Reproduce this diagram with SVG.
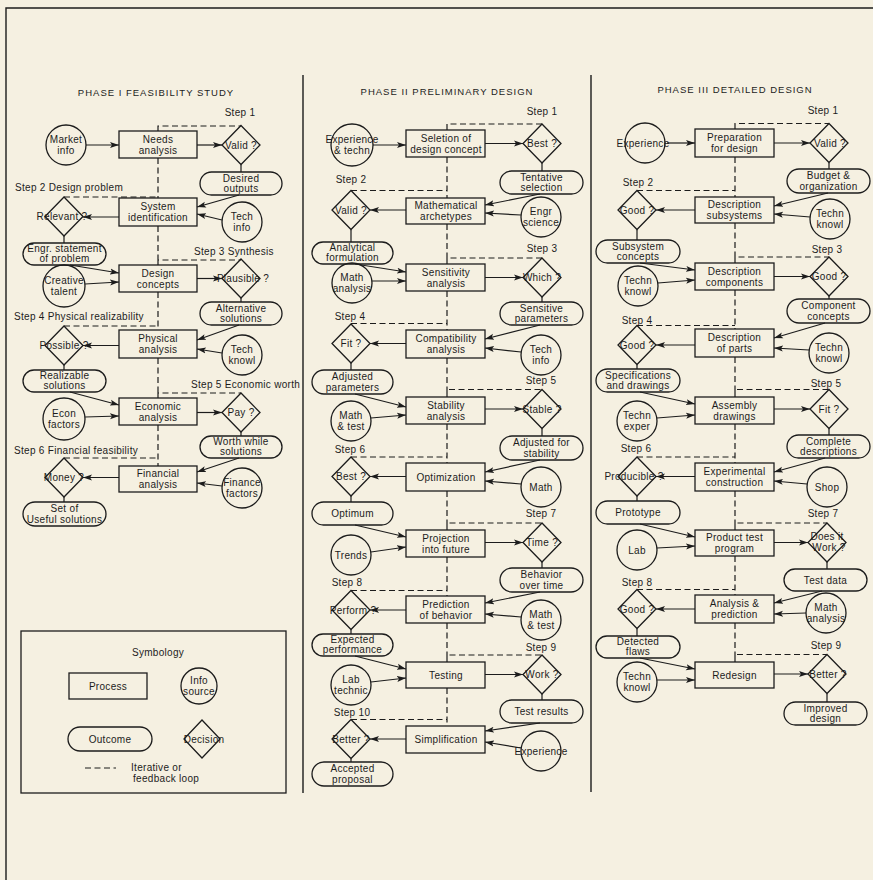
<svg xmlns="http://www.w3.org/2000/svg" width="873" height="880" viewBox="0 0 873 880">
<defs>
<marker id="ah" markerUnits="userSpaceOnUse" markerWidth="10" markerHeight="8" refX="9" refY="4" orient="auto">
<path d="M0,1 L9,4 L0,7 L2,4 Z" fill="#1c1c1c"/>
</marker>
<style>
.bg{fill:#f5f0e1}
.fr{fill:none;stroke:#1c1c1c;stroke-width:1.4}
.n rect,.n circle,.n polygon{fill:none;stroke:#1c1c1c;stroke-width:1.3}
text{font-family:"Liberation Sans","DejaVu Sans",sans-serif;font-size:10px;fill:#1c1c1c;letter-spacing:0.3px}
.n text{text-anchor:middle}
.t{font-size:9.5px;letter-spacing:1px;text-anchor:middle}
.s{text-anchor:start}
.c{text-anchor:middle}
.d{fill:none;stroke:#1c1c1c;stroke-width:1.2;stroke-dasharray:6,3.5}
.a{fill:none;stroke:#1c1c1c;stroke-width:1.2;marker-end:url(#ah)}
.l{fill:none;stroke:#1c1c1c;stroke-width:1.2}
</style>
</defs>
<rect class="bg" x="0" y="0" width="873" height="880"/>
<path class="fr" d="M6,880 V8 H873"/>
<path class="fr" d="M303,75 V793 M591,75 V792"/>

<text class="t" x="156" y="96">PHASE I FEASIBILITY STUDY</text>
<text class="t" x="447" y="95">PHASE II PRELIMINARY DESIGN</text>
<text class="t" x="735" y="93">PHASE III DETAILED DESIGN</text>

<g id="steps">
<text class="c" x="240" y="116">Step 1</text>
<text class="s" x="15" y="191">Step 2  Design problem</text>
<text class="s" x="194" y="255">Step 3  Synthesis</text>
<text class="s" x="14" y="320">Step 4  Physical realizability</text>
<text class="s" x="191" y="388">Step 5  Economic worth</text>
<text class="s" x="14" y="454">Step 6  Financial feasibility</text>
<text class="c" x="542" y="115">Step 1</text>
<text class="c" x="351" y="183">Step 2</text>
<text class="c" x="542" y="252">Step 3</text>
<text class="c" x="350" y="320">Step 4</text>
<text class="c" x="541" y="384">Step 5</text>
<text class="c" x="350" y="453">Step 6</text>
<text class="c" x="541" y="517">Step 7</text>
<text class="c" x="347" y="586">Step 8</text>
<text class="c" x="541" y="651">Step 9</text>
<text class="c" x="352" y="716">Step 10</text>
<text class="c" x="823" y="114">Step 1</text>
<text class="c" x="638" y="186">Step 2</text>
<text class="c" x="827" y="253">Step 3</text>
<text class="c" x="637" y="324">Step 4</text>
<text class="c" x="826" y="387">Step 5</text>
<text class="c" x="636" y="452">Step 6</text>
<text class="c" x="823" y="517">Step 7</text>
<text class="c" x="637" y="586">Step 8</text>
<text class="c" x="826" y="649">Step 9</text>
</g>

<g id="connectors">
<!-- Phase I dashed -->
<path class="d" d="M158,131 V126 H241 M158,158 V198 M158,226 V265 M158,292 V330 M158,358 V398 M158,425 V466 M64,197 H158 M158,265 V260 H241 M64,326 H158 M158,398 V393 H241 M64,458 H158"/>
<!-- Phase II dashed -->
<path class="d" d="M447,130 V124 H542 M351,190.5 H447 M447,264 V258 H542 M351,323.5 H447 M447,397 V389.5 H542 M351,457 H447 M447,530 V523 H542 M351,590.5 H447 M447,662 V655 H542 M351,719.5 H447 M447,157 V198 M447,224 V264 M447,291 V330 M447,358 V397 M447,424 V463 M447,491 V530 M447,557 V596 M447,623 V662 M447,688 V726"/>
<!-- Phase III dashed -->
<path class="d" d="M735,129 V123.5 H829 M637,190.5 H735 M735,263 V257 H829 M637,325.5 H735 M735,397 V389.5 H829 M637,457 H735 M735,530 V523 H827 M637,589.5 H735 M735,662 V654.5 H827 M735,157 V197 M735,223 V263 M735,290 V329 M735,357 V397 M735,424 V463 M735,491 V530 M735,556 V595 M735,623 V662"/>
<!-- diamond to outcome -->
<path class="l" d="M241,164.5 V172 M64,236 V243 M241,298 V302 M64,365 V370 M241,432 V436 M64,497 V502 M542,163 V171 M351,229.5 V242 M542,297 V302 M351,363 V370 M542,428.5 V436 M351,496 V502 M542,562 V568 M351,629.5 V634 M542,694 V700 M351,758.5 V762 M829,162.5 V169 M637,229.5 V240 M829,296 V299 M637,364.5 V369 M829,428.5 V435 M637,496 V501 M827,562 V569 M637,628.5 V636 M827,693.5 V702"/>
<!-- Phase I arrows -->
<path class="a" d="M86,145 H119"/>
<path class="a" d="M197,145 H222"/>
<path class="a" d="M239,195 L197,207"/>
<path class="a" d="M222,220 L197,214"/>
<path class="a" d="M119,217 H83"/>
<path class="a" d="M70,265 L119,273"/>
<path class="a" d="M85,284 L119,282"/>
<path class="a" d="M197,278.5 H222"/>
<path class="a" d="M239,325 L197,340"/>
<path class="a" d="M222,353 L197,349"/>
<path class="a" d="M119,345.5 H83"/>
<path class="a" d="M70,392 L119,405"/>
<path class="a" d="M85,417 L119,416"/>
<path class="a" d="M197,412.5 H222"/>
<path class="a" d="M239,458 L197,472"/>
<path class="a" d="M222,486 L197,483"/>
<path class="a" d="M119,477.5 H83"/>
<!-- Phase II arrows -->
<path class="a" d="M373,145 H406"/>
<path class="a" d="M485,143.5 H523"/>
<path class="a" d="M540,194 L485,205"/>
<path class="a" d="M521,215 L485,213"/>
<path class="a" d="M406,210 H370"/>
<path class="a" d="M355,264 L406,272"/>
<path class="a" d="M372,281 L406,281"/>
<path class="a" d="M485,277.5 H523"/>
<path class="a" d="M540,325 L485,339"/>
<path class="a" d="M521,352 L485,348"/>
<path class="a" d="M406,343.5 H370"/>
<path class="a" d="M355,394 L406,407"/>
<path class="a" d="M371,418 L406,415"/>
<path class="a" d="M485,409 H523"/>
<path class="a" d="M540,460 L485,472"/>
<path class="a" d="M521,484 L485,481"/>
<path class="a" d="M406,476.5 H370"/>
<path class="a" d="M355,525 L406,537"/>
<path class="a" d="M371,552 L406,547"/>
<path class="a" d="M485,542.5 H523"/>
<path class="a" d="M540,592 L485,603"/>
<path class="a" d="M521,617 L485,614"/>
<path class="a" d="M406,610 H370"/>
<path class="a" d="M355,656 L406,669"/>
<path class="a" d="M371,682 L406,678"/>
<path class="a" d="M485,674.5 H523"/>
<path class="a" d="M540,723 L485,731"/>
<path class="a" d="M521,748 L485,742"/>
<path class="a" d="M406,739 H370"/>
<!-- Phase III arrows -->
<path class="a" d="M667,143 H695"/>
<path class="a" d="M774,143 H810"/>
<path class="a" d="M828,193 L774,206"/>
<path class="a" d="M810,217 L774,214"/>
<path class="a" d="M695,210 H656"/>
<path class="a" d="M640,263 L695,270"/>
<path class="a" d="M658,283 L695,280"/>
<path class="a" d="M774,276.5 H810"/>
<path class="a" d="M825,323 L774,338"/>
<path class="a" d="M809,350 L774,348"/>
<path class="a" d="M695,345 H656"/>
<path class="a" d="M640,392 L695,404"/>
<path class="a" d="M657,418 L695,415"/>
<path class="a" d="M774,409 H810"/>
<path class="a" d="M825,458 L774,472"/>
<path class="a" d="M807,484 L774,481"/>
<path class="a" d="M695,476.5 H656"/>
<path class="a" d="M640,524 L695,537"/>
<path class="a" d="M657,548 L695,546"/>
<path class="a" d="M774,542.5 H808"/>
<path class="a" d="M822,591 L774,603"/>
<path class="a" d="M806,613 L774,614"/>
<path class="a" d="M695,609 H656"/>
<path class="a" d="M640,658 L695,669"/>
<path class="a" d="M657,680 L695,680"/>
<path class="a" d="M774,674 H808"/>
</g>

<!-- ===== Phase I nodes ===== -->
<g id="p1-market" class="n"><circle cx="66" cy="145" r="20"/><text x="66" y="143">Market</text><text x="66" y="154">info</text></g>
<g id="p1-needs" class="n"><rect x="119" y="131" width="78" height="27"/><text x="158" y="142.5">Needs</text><text x="158" y="153.5">analysis</text></g>
<g id="p1-valid" class="n"><polygon points="241,125.5 260,145 241,164.5 222,145"/><text x="241" y="148.5">Valid ?</text></g>
<g id="p1-desired" class="n"><rect x="200" y="172" width="82" height="23" rx="11.5"/><text x="241" y="181.5">Desired</text><text x="241" y="192">outputs</text></g>
<g id="p1-sysid" class="n"><rect x="119" y="198" width="78" height="28"/><text x="158" y="210">System</text><text x="158" y="221">identification</text></g>
<g id="p1-techinfo" class="n"><circle cx="242" cy="222" r="20"/><text x="242" y="220">Tech</text><text x="242" y="231">info</text></g>
<g id="p1-relevant" class="n"><polygon points="64,197 83,216.5 64,236 45,216.5"/><text x="62" y="220">Relevant ?</text></g>
<g id="p1-engr" class="n"><rect x="23" y="243" width="83" height="22" rx="11"/><text x="64.5" y="252">Engr. statement</text><text x="64.5" y="262">of problem</text></g>
<g id="p1-design" class="n"><rect x="119" y="265" width="78" height="27"/><text x="158" y="276.5">Design</text><text x="158" y="287.5">concepts</text></g>
<g id="p1-creative" class="n"><circle cx="64" cy="286" r="21"/><text x="64" y="284">Creative</text><text x="64" y="295">talent</text></g>
<g id="p1-plausible" class="n"><polygon points="241,259 260,278.5 241,298 222,278.5"/><text x="243" y="282">Plausible ?</text></g>
<g id="p1-alt" class="n"><rect x="200" y="302" width="82" height="23" rx="11.5"/><text x="241" y="311.5">Alternative</text><text x="241" y="322">solutions</text></g>
<g id="p1-physical" class="n"><rect x="119" y="330" width="78" height="28"/><text x="158" y="342">Physical</text><text x="158" y="353">analysis</text></g>
<g id="p1-techknowl" class="n"><circle cx="242" cy="355" r="20"/><text x="242" y="353">Tech</text><text x="242" y="364">knowl</text></g>
<g id="p1-possible" class="n"><polygon points="64,326 83,345.5 64,365 45,345.5"/><text x="64" y="349">Possible ?</text></g>
<g id="p1-realizable" class="n"><rect x="23" y="370" width="83" height="22" rx="11"/><text x="64.5" y="379">Realizable</text><text x="64.5" y="389">solutions</text></g>
<g id="p1-economic" class="n"><rect x="119" y="398" width="78" height="27"/><text x="158" y="409.5">Economic</text><text x="158" y="420.5">analysis</text></g>
<g id="p1-econ" class="n"><circle cx="64" cy="419" r="21"/><text x="64" y="417">Econ</text><text x="64" y="428">factors</text></g>
<g id="p1-pay" class="n"><polygon points="241,393 260,412.5 241,432 222,412.5"/><text x="241" y="416">Pay ?</text></g>
<g id="p1-worth" class="n"><rect x="200" y="436" width="82" height="22" rx="11"/><text x="241" y="445">Worth while</text><text x="241" y="455">solutions</text></g>
<g id="p1-financial" class="n"><rect x="119" y="466" width="78" height="26"/><text x="158" y="477">Financial</text><text x="158" y="488">analysis</text></g>
<g id="p1-finance" class="n"><circle cx="242" cy="488" r="20"/><text x="242" y="486">Finance</text><text x="242" y="497">factors</text></g>
<g id="p1-money" class="n"><polygon points="64,458 83,477.5 64,497 45,477.5"/><text x="64" y="481">Money ?</text></g>
<g id="p1-set" class="n"><rect x="23" y="502" width="83" height="24" rx="12"/><text x="64.5" y="512">Set of</text><text x="64.5" y="523">Useful solutions</text></g>

<!-- ===== Legend ===== -->
<g id="legend" class="n">
<rect x="21" y="631" width="265" height="162"/>
<text x="158" y="656">Symbology</text>
<rect x="69" y="673" width="78" height="26"/><text x="108" y="689.5">Process</text>
<circle cx="199" cy="686" r="18"/><text x="199" y="684">Info</text><text x="199" y="695">source</text>
<rect x="68" y="727" width="84" height="24" rx="12"/><text x="110" y="742.5">Outcome</text>
<polygon points="202,720 220,739 202,758 184,739"/><text x="204" y="742.5">Decision</text>
<path class="d" d="M85,768 H116"/>
<text x="131" y="771" style="text-anchor:start">Iterative or</text>
<text x="133" y="782" style="text-anchor:start">feedback loop</text>
</g>

<!-- ===== Phase II nodes ===== -->
<g id="p2-exp" class="n"><circle cx="352" cy="145" r="21"/><text x="352" y="143">Experience</text><text x="352" y="154">&amp; techn</text></g>
<g id="p2-selection" class="n"><rect x="406" y="130" width="79" height="27"/><text x="446" y="141.5">Seletion of</text><text x="446" y="152.5">design concept</text></g>
<g id="p2-best" class="n"><polygon points="542,124 561,143.5 542,163 523,143.5"/><text x="542" y="147">Best ?</text></g>
<g id="p2-tentative" class="n"><rect x="500" y="171" width="83" height="23" rx="11.5"/><text x="541.5" y="180.5">Tentative</text><text x="541.5" y="191">selection</text></g>
<g id="p2-math" class="n"><rect x="406" y="198" width="79" height="26"/><text x="446" y="209">Mathematical</text><text x="446" y="220">archetypes</text></g>
<g id="p2-engr" class="n"><circle cx="541" cy="217" r="20"/><text x="541" y="215">Engr</text><text x="541" y="226">science</text></g>
<g id="p2-valid" class="n"><polygon points="351,190.5 370,210 351,229.5 332,210"/><text x="351" y="213.5">Valid ?</text></g>
<g id="p2-analytical" class="n"><rect x="312" y="242" width="81" height="22" rx="11"/><text x="352.5" y="251">Analytical</text><text x="352.5" y="261">formulation</text></g>
<g id="p2-sens" class="n"><rect x="406" y="264" width="79" height="27"/><text x="446" y="275.5">Sensitivity</text><text x="446" y="286.5">analysis</text></g>
<g id="p2-mathan" class="n"><circle cx="352" cy="283" r="20"/><text x="352" y="281">Math</text><text x="352" y="292">analysis</text></g>
<g id="p2-which" class="n"><polygon points="542,258 561,277.5 542,297 523,277.5"/><text x="542" y="281">Which ?</text></g>
<g id="p2-sensitive" class="n"><rect x="500" y="302" width="83" height="23" rx="11.5"/><text x="541.5" y="311.5">Sensitive</text><text x="541.5" y="322">parameters</text></g>
<g id="p2-compat" class="n"><rect x="406" y="330" width="79" height="28"/><text x="446" y="342">Compatibility</text><text x="446" y="353">analysis</text></g>
<g id="p2-techinfo" class="n"><circle cx="541" cy="355" r="20"/><text x="541" y="353">Tech</text><text x="541" y="364">info</text></g>
<g id="p2-fit" class="n"><polygon points="351,324 370,343.5 351,363 332,343.5"/><text x="351" y="347">Fit ?</text></g>
<g id="p2-adjp" class="n"><rect x="312" y="370" width="81" height="24" rx="12"/><text x="352.5" y="380">Adjusted</text><text x="352.5" y="391">parameters</text></g>
<g id="p2-stab" class="n"><rect x="406" y="397" width="79" height="27"/><text x="446" y="408.5">Stability</text><text x="446" y="419.5">analysis</text></g>
<g id="p2-mathtest" class="n"><circle cx="351" cy="421" r="20"/><text x="351" y="419">Math</text><text x="351" y="430">&amp; test</text></g>
<g id="p2-stable" class="n"><polygon points="542,389.5 561,409 542,428.5 523,409"/><text x="542" y="412.5">Stable ?</text></g>
<g id="p2-adjs" class="n"><rect x="500" y="436" width="83" height="24" rx="12"/><text x="541.5" y="446">Adjusted for</text><text x="541.5" y="457">stability</text></g>
<g id="p2-opt" class="n"><rect x="406" y="463" width="79" height="28"/><text x="446" y="480.5">Optimization</text></g>
<g id="p2-mathc" class="n"><circle cx="541" cy="487" r="20"/><text x="541" y="490.5">Math</text></g>
<g id="p2-best2" class="n"><polygon points="351,457 370,476.5 351,496 332,476.5"/><text x="351" y="480">Best ?</text></g>
<g id="p2-optimum" class="n"><rect x="312" y="502" width="81" height="23" rx="11.5"/><text x="352.5" y="517">Optimum</text></g>
<g id="p2-proj" class="n"><rect x="406" y="530" width="79" height="27"/><text x="446" y="541.5">Projection</text><text x="446" y="552.5">into future</text></g>
<g id="p2-trends" class="n"><circle cx="351" cy="555" r="20"/><text x="351" y="558.5">Trends</text></g>
<g id="p2-time" class="n"><polygon points="542,523 561,542.5 542,562 523,542.5"/><text x="542" y="546">Time ?</text></g>
<g id="p2-behavior" class="n"><rect x="500" y="568" width="83" height="24" rx="12"/><text x="541.5" y="578">Behavior</text><text x="541.5" y="589">over time</text></g>
<g id="p2-pred" class="n"><rect x="406" y="596" width="79" height="27"/><text x="446" y="607.5">Prediction</text><text x="446" y="618.5">of behavior</text></g>
<g id="p2-mathtest2" class="n"><circle cx="541" cy="620" r="20"/><text x="541" y="618">Math</text><text x="541" y="629">&amp; test</text></g>
<g id="p2-perform" class="n"><polygon points="351,590.5 370,610 351,629.5 332,610"/><text x="353" y="613.5">Perform ?</text></g>
<g id="p2-expected" class="n"><rect x="312" y="634" width="81" height="22" rx="11"/><text x="352.5" y="643">Expected</text><text x="352.5" y="653">performance</text></g>
<g id="p2-testing" class="n"><rect x="406" y="662" width="79" height="26"/><text x="446" y="678.5">Testing</text></g>
<g id="p2-lab" class="n"><circle cx="351" cy="685" r="20"/><text x="351" y="683">Lab</text><text x="351" y="694">technic</text></g>
<g id="p2-work" class="n"><polygon points="542,655 561,674.5 542,694 523,674.5"/><text x="542" y="678">Work ?</text></g>
<g id="p2-results" class="n"><rect x="500" y="700" width="83" height="23" rx="11.5"/><text x="541.5" y="715">Test results</text></g>
<g id="p2-simp" class="n"><rect x="406" y="726" width="79" height="27"/><text x="446" y="743">Simplification</text></g>
<g id="p2-experience" class="n"><circle cx="541" cy="751" r="20"/><text x="541" y="754.5">Experience</text></g>
<g id="p2-better" class="n"><polygon points="351,719.5 370,739 351,758.5 332,739"/><text x="351" y="742.5">Better ?</text></g>
<g id="p2-accepted" class="n"><rect x="312" y="762" width="81" height="24" rx="12"/><text x="352.5" y="772">Accepted</text><text x="352.5" y="783">proposal</text></g>

<!-- ===== Phase III nodes ===== -->
<g id="p3-experience" class="n"><circle cx="645" cy="143" r="20"/><text x="643" y="146.5">Experience</text></g>
<g id="p3-prep" class="n"><rect x="695" y="129" width="79" height="28"/><text x="734.5" y="141">Preparation</text><text x="734.5" y="152">for design</text></g>
<g id="p3-valid" class="n"><polygon points="829,123.5 848,143 829,162.5 810,143"/><text x="830" y="146.5">Valid ?</text></g>
<g id="p3-budget" class="n"><rect x="787" y="169" width="83" height="24" rx="12"/><text x="828.5" y="179">Budget &amp;</text><text x="828.5" y="190">organization</text></g>
<g id="p3-descsub" class="n"><rect x="695" y="197" width="79" height="26"/><text x="734.5" y="208">Description</text><text x="734.5" y="219">subsystems</text></g>
<g id="p3-techn1" class="n"><circle cx="830" cy="219" r="20"/><text x="830" y="217">Techn</text><text x="830" y="228">knowl</text></g>
<g id="p3-good1" class="n"><polygon points="637,190.5 656,210 637,229.5 618,210"/><text x="637" y="213.5">Good ?</text></g>
<g id="p3-subsys" class="n"><rect x="596" y="240" width="84" height="23" rx="11.5"/><text x="638" y="249.5">Subsystem</text><text x="638" y="260">concepts</text></g>
<g id="p3-desccomp" class="n"><rect x="695" y="263" width="79" height="27"/><text x="734.5" y="274.5">Description</text><text x="734.5" y="285.5">components</text></g>
<g id="p3-techn2" class="n"><circle cx="638" cy="286" r="20"/><text x="638" y="284">Techn</text><text x="638" y="295">knowl</text></g>
<g id="p3-good2" class="n"><polygon points="829,257 848,276.5 829,296 810,276.5"/><text x="829" y="280">Good ?</text></g>
<g id="p3-component" class="n"><rect x="787" y="299" width="83" height="24" rx="12"/><text x="828.5" y="309">Component</text><text x="828.5" y="320">concepts</text></g>
<g id="p3-parts" class="n"><rect x="695" y="329" width="79" height="28"/><text x="734.5" y="341">Description</text><text x="734.5" y="352">of parts</text></g>
<g id="p3-techn3" class="n"><circle cx="829" cy="353" r="20"/><text x="829" y="351">Techn</text><text x="829" y="362">knowl</text></g>
<g id="p3-good3" class="n"><polygon points="637,325.5 656,345 637,364.5 618,345"/><text x="637" y="348.5">Good ?</text></g>
<g id="p3-specs" class="n"><rect x="596" y="369" width="84" height="23" rx="11.5"/><text x="638" y="378.5">Specifications</text><text x="638" y="389">and drawings</text></g>
<g id="p3-assembly" class="n"><rect x="695" y="397" width="79" height="27"/><text x="734.5" y="408.5">Assembly</text><text x="734.5" y="419.5">drawings</text></g>
<g id="p3-exper" class="n"><circle cx="637" cy="421" r="20"/><text x="637" y="419">Techn</text><text x="637" y="430">exper</text></g>
<g id="p3-fit" class="n"><polygon points="829,389.5 848,409 829,428.5 810,409"/><text x="829" y="412.5">Fit ?</text></g>
<g id="p3-complete" class="n"><rect x="787" y="435" width="83" height="23" rx="11.5"/><text x="828.5" y="444.5">Complete</text><text x="828.5" y="455">descriptions</text></g>
<g id="p3-expcon" class="n"><rect x="695" y="463" width="79" height="28"/><text x="734.5" y="475">Experimental</text><text x="734.5" y="486">construction</text></g>
<g id="p3-shop" class="n"><circle cx="827" cy="487" r="20"/><text x="827" y="490.5">Shop</text></g>
<g id="p3-producible" class="n"><polygon points="637,457 656,476.5 637,496 618,476.5"/><text x="634" y="480">Producible ?</text></g>
<g id="p3-prototype" class="n"><rect x="596" y="501" width="84" height="23" rx="11.5"/><text x="638" y="516">Prototype</text></g>
<g id="p3-product" class="n"><rect x="695" y="530" width="79" height="26"/><text x="734.5" y="541">Product test</text><text x="734.5" y="552">program</text></g>
<g id="p3-lab" class="n"><circle cx="637" cy="550" r="20"/><text x="637" y="553.5">Lab</text></g>
<g id="p3-doesit" class="n"><polygon points="827,523 846,542.5 827,562 808,542.5"/><text x="827" y="540">Does it</text><text x="829" y="551">Work ?</text></g>
<g id="p3-testdata" class="n"><rect x="784" y="569" width="83" height="22" rx="11"/><text x="825.5" y="583.5">Test data</text></g>
<g id="p3-analysis" class="n"><rect x="695" y="595" width="79" height="28"/><text x="734.5" y="607">Analysis &amp;</text><text x="734.5" y="618">prediction</text></g>
<g id="p3-mathan" class="n"><circle cx="826" cy="613" r="20"/><text x="826" y="611">Math</text><text x="826" y="622">analysis</text></g>
<g id="p3-good4" class="n"><polygon points="637,589.5 656,609 637,628.5 618,609"/><text x="637" y="612.5">Good ?</text></g>
<g id="p3-detected" class="n"><rect x="596" y="636" width="84" height="22" rx="11"/><text x="638" y="645">Detected</text><text x="638" y="655">flaws</text></g>
<g id="p3-redesign" class="n"><rect x="695" y="662" width="79" height="26"/><text x="734.5" y="678.5">Redesign</text></g>
<g id="p3-techn4" class="n"><circle cx="637" cy="682" r="20"/><text x="637" y="680">Techn</text><text x="637" y="691">knowl</text></g>
<g id="p3-better" class="n"><polygon points="827,654.5 846,674 827,693.5 808,674"/><text x="828" y="677.5">Better ?</text></g>
<g id="p3-improved" class="n"><rect x="784" y="702" width="83" height="23" rx="11.5"/><text x="825.5" y="711.5">Improved</text><text x="825.5" y="722">design</text></g>
</svg>
